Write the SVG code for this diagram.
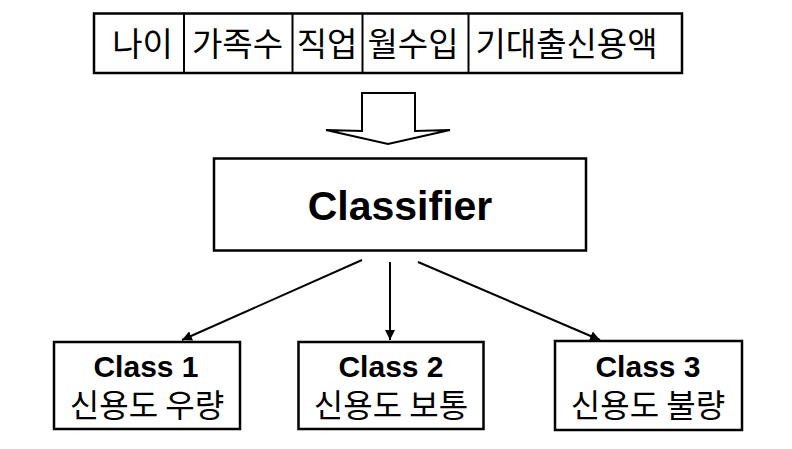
<svg xmlns="http://www.w3.org/2000/svg" width="792" height="449" viewBox="0 0 792 449">
<defs>
<style>
.box{fill:#fff;stroke:#000;stroke-width:2.5}
.kr{font-family:"Noto Sans CJK KR","Noto Sans",sans-serif;font-size:33px;fill:#000;text-anchor:middle}
.kr2{font-family:"Noto Sans CJK KR","Noto Sans",sans-serif;font-size:32px;fill:#000;text-anchor:middle}
.en{font-family:"Liberation Sans",Arial,sans-serif;font-weight:bold;fill:#000;text-anchor:middle}
.conn{stroke:#000;stroke-width:2;fill:none}
</style>
<marker id="ah" viewBox="0 0 10 10" refX="10" refY="5" markerWidth="5" markerHeight="5" orient="auto" markerUnits="strokeWidth">
<path d="M0,0 L10,5 L0,10 z" fill="#000"/>
</marker>
</defs>
<rect width="792" height="449" fill="#fff"/>
<g id="features">
<rect class="box" x="94" y="13.5" width="588" height="59.5"/>
<line class="conn" x1="184" y1="13.5" x2="184" y2="73" stroke-width="2.5"/>
<line class="conn" x1="292.5" y1="13.5" x2="292.5" y2="73" stroke-width="2.5"/>
<line class="conn" x1="362.5" y1="13.5" x2="362.5" y2="73" stroke-width="2.5"/>
<line class="conn" x1="468.5" y1="13.5" x2="468.5" y2="73" stroke-width="2.5"/>
<text class="kr" x="142.5" y="56">나이</text>
<text class="kr" x="237.5" y="56">가족수</text>
<text class="kr" x="327" y="56">직업</text>
<text class="kr" x="413" y="56">월수입</text>
<text class="kr" x="566.5" y="56">기대출신용액</text>
</g>
<g id="input-arrow">
<polygon points="362,93 415,93 415,131 450,130 388,144 326,130 362,131" fill="#fff" stroke="#000" stroke-width="2"/>
</g>
<g id="classifier">
<rect class="box" x="214" y="158.5" width="372" height="92"/>
<text class="en" x="400" y="220" font-size="41">Classifier</text>
</g>
<g id="class1">
<rect class="box" x="54" y="342" width="186" height="87"/>
<text class="en" x="146" y="377" font-size="30">Class 1</text>
<text class="kr2" x="147" y="417">신용도 우량</text>
</g>
<g id="class2">
<rect class="box" x="298.5" y="342" width="185" height="87"/>
<text class="en" x="391" y="377" font-size="30">Class 2</text>
<text class="kr2" x="391" y="417">신용도 보통</text>
</g>
<g id="class3">
<rect class="box" x="555" y="341" width="187" height="89"/>
<text class="en" x="648" y="377" font-size="30">Class 3</text>
<text class="kr2" x="648" y="417">신용도 불량</text>
</g>
<g id="connectors">
<line class="conn" x1="362" y1="260" x2="182" y2="340" marker-end="url(#ah)"/>
<line class="conn" x1="390" y1="262" x2="390" y2="340" marker-end="url(#ah)"/>
<line class="conn" x1="418" y1="262" x2="600" y2="340" marker-end="url(#ah)"/>
</g>
</svg>
